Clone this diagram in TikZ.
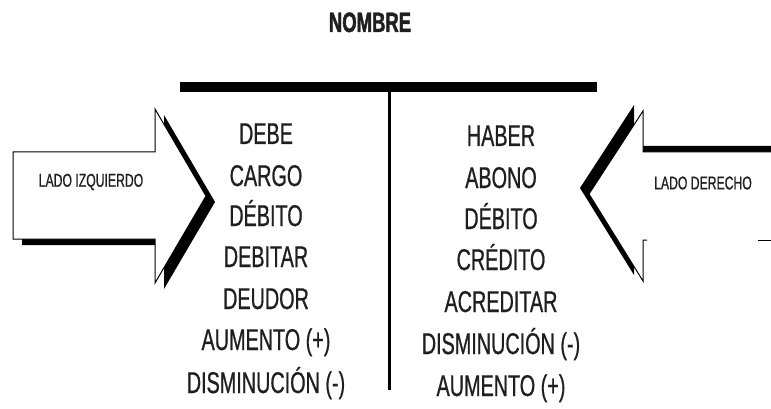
\documentclass[tikz,border=0pt]{standalone}
\usepackage{fontspec}
\setmainfont{Liberation Sans}[FakeStretch=0.66,FakeBold=0.7,BoldFeatures={FakeBold=1.5}]
\usepackage{tikz}

\begin{document}
\begin{tikzpicture}[
   x=1pt,y=-1pt,
   every node/.style={inner sep=0pt,text=black!88},
   word/.style={font=\fontsize{30}{30}\selectfont,anchor=base},
   side/.style={font=\fontsize{18.5}{18.5}\selectfont},
   title/.style={font=\fontsize{28}{28}\selectfont\bfseries,anchor=base},
   outline/.style={draw=black,line width=1pt,line join=miter},
   shadow/.style={fill=black}]
\useasboundingbox (0,0) rectangle (771,409);
% titulo y cuenta T
\node[title] (nombre) at (370,32) {NOMBRE};
\draw[line width=10pt] (180,87) -- (597,87);
\draw[line width=3pt] (389,91) -- (389,390);
% lado izquierdo
\node[word] (debe) at (266,144) {DEBE};
\node[word] (cargo) at (266,186) {CARGO};
\node[word] (debito) at (266,226) {DÉBITO};
\node[word] (debitar) at (266,267) {DEBITAR};
\node[word] (deudor) at (266,309) {DEUDOR};
\node[word] (aumentoI) at (266,350) {AUMENTO (+)};
\node[word] (disminucionI) at (266,393) {DISMINUCIÓN (-)};
% lado derecho
\node[word] (haber) at (501,146) {HABER};
\node[word] (abono) at (501,188) {ABONO};
\node[word] (debitoD) at (501,229) {DÉBITO};
\node[word] (credito) at (501,270) {CRÉDITO};
\node[word] (acreditar) at (501,312) {ACREDITAR};
\node[word] (disminucionD) at (501,354) {DISMINUCIÓN (-)};
\node[word] (aumentoD) at (501,396) {AUMENTO (+)};
% flecha izquierda
\fill[shadow,shift={(9,6)}] (13,152) -- (155,152) -- (155,109) -- (206,196) -- (155,283) -- (155,239) -- (13,239) -- cycle;
\filldraw[outline,fill=white] (13,152) -- (155,152) -- (155,109) -- (206,196) -- (155,283) -- (155,239) -- (13,239) -- cycle;
\node[side] (izq) at (91,182) {LADO IZQUIERDO};
% flecha derecha
\fill[shadow,shift={(-9,-6)}] (780,152) -- (643,152) -- (643,111) -- (589,194) -- (643,281) -- (643,240) -- (780,240) -- cycle;
\fill[white] (780,152) -- (643,152) -- (643,111) -- (589,194) -- (643,281) -- (643,240) -- (780,240) -- cycle;
\draw[outline] (780,152) -- (643,152) -- (643,111) -- (589,194) -- (643,281) -- (643,240) -- (647,240);
\draw[outline] (758,240) -- (780,240);
\node[side] (der) at (703,183) {LADO DERECHO};
\end{tikzpicture}
\end{document}
